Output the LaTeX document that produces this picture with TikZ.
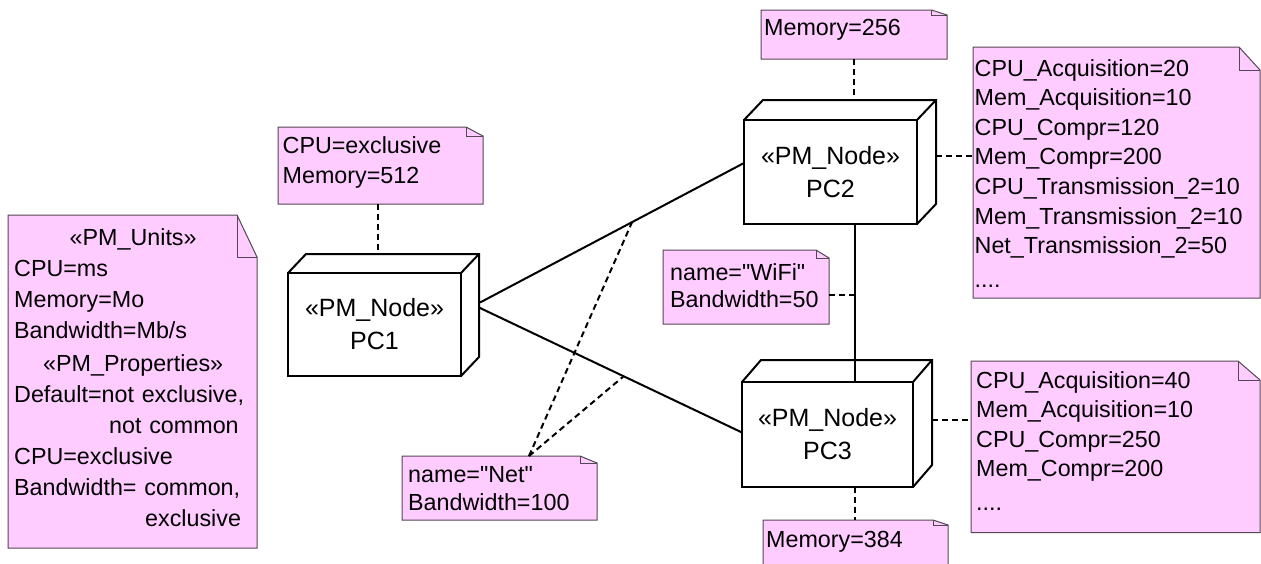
\documentclass[tikz,border=0pt]{standalone}
\usepackage{fontspec}
\setmainfont{Liberation Sans}[Ligatures=TeXOff]
\usetikzlibrary{calc}
\definecolor{notepink}{RGB}{255,204,255}
\definecolor{noteedge}{RGB}{85,70,85}
\tikzset{
  notebox/.style={draw=none, inner sep=0pt, outer sep=0pt, anchor=north west},
  noteshape/.style={fill=notepink, draw=noteedge, line width=1pt, line join=miter},
  notetext/.style={inner sep=0pt, anchor=base west, align=left, text width=#1,
    font=\fontsize{23.3}{29.6}\selectfont},
  pmnode/.style={draw, fill=white, line width=2pt, inner sep=0pt, outer sep=0pt,
    align=center, font=\fontsize{25}{33}\selectfont},
  boxline/.style={line width=2pt, line join=miter},
  conn/.style={line width=2pt},
  dashconn/.style={line width=2pt, dash pattern=on 6pt off 4pt}
}
\newcommand\drawnote[3]{%
  \filldraw[noteshape] (#1.south west) -- (#1.north west) -- ([xshift=-#2]#1.north east)
    -- ([yshift=-#3]#1.north east) -- (#1.south east) -- cycle;
  \draw[noteshape, fill=none] ([xshift=-#2]#1.north east) |- ([yshift=-#3]#1.north east);
}
\newcommand\drawcube[3]{%
  \draw[boxline] (#1.north west) -- ++(#2,-#3) -| ([shift={(#2,-#3)}]#1.south east) -- (#1.south east);
  \draw[boxline] (#1.north east) -- ++(#2,-#3);
}
\begin{document}
\begin{tikzpicture}[x=1pt, y=-1pt]
\clip (0,0) rectangle (1261,563);
\fill[white] (0,0) rectangle (1261,563);

% ---- PM nodes
\node[pmnode, minimum width=173pt, minimum height=103pt] (pc1) at (374.5,324.5) {«PM\_Node»\\PC1};
\drawcube{pc1}{18}{19}
\node[pmnode, minimum width=173pt, minimum height=104pt] (pc2) at (830.5,172) {«PM\_Node»\\PC2};
\drawcube{pc2}{19}{20}
\node[pmnode, minimum width=171pt, minimum height=105pt] (pc3) at (827.5,434.5) {«PM\_Node»\\PC3};
\drawcube{pc3}{19}{22}

% ---- notes (shapes)
\node[notebox, minimum width=249pt, minimum height=333pt] (units) at (8,215) {};
\drawnote{units}{20pt}{42pt}
\node[notebox, minimum width=205pt, minimum height=77pt] (n1) at (278,127) {};
\drawnote{n1}{17pt}{9pt}
\node[notebox, minimum width=186pt, minimum height=49pt] (m256) at (761,10) {};
\drawnote{m256}{15.5pt}{5pt}
\node[notebox, minimum width=287pt, minimum height=251pt] (n2) at (973,47) {};
\drawnote{n2}{21pt}{23pt}
\node[notebox, minimum width=166pt, minimum height=74pt] (wifi) at (663,250) {};
\drawnote{wifi}{13pt}{8pt}
\node[notebox, minimum width=195pt, minimum height=64pt] (net) at (402,456) {};
\drawnote{net}{17pt}{7pt}
\node[notebox, minimum width=289pt, minimum height=171.5pt] (n3) at (971,361) {};
\drawnote{n3}{22pt}{19pt}
\node[notebox, minimum width=185pt, minimum height=60pt] (m384) at (763,520) {};
\drawnote{m384}{15pt}{5pt}

% ---- solid connectors
\draw[conn] ([shift={(19,-22)}]pc1.east) -- ([yshift=9pt]pc2.west) coordinate[pos=0.576] (l1);
\draw[conn] ([shift={(18,-17)}]pc1.east) -- ([yshift=2pt]pc3.west) coordinate[pos=0.55] (l2);
\coordinate (v) at ([xshift=24.5pt]pc2.south);
\draw[conn] (v) -- (v |- pc3.north);

% ---- dashed connectors
\coordinate (pc1top) at ([yshift=19pt]pc1.north);
\coordinate (pc2top) at ([yshift=20pt]pc2.north);
\coordinate (d1) at ([xshift=-2.5pt]n1.south);
\draw[dashconn] (d1) -- (d1 |- pc1top);
\draw[dashconn] (m256.south) -- (m256.south |- pc2top);
\coordinate (d2) at ([shift={(19,-16)}]pc2.east);
\draw[dashconn] (d2) -- (d2 -| n2.west);
\coordinate (d3) at ([shift={(19,-14.5)}]pc3.east);
\draw[dashconn] (d3) -- (d3 -| n3.west);
\coordinate (d4) at ([xshift=27.5pt]pc3.south);
\draw[dashconn] (d4) -- (d4 |- m384.north);
\coordinate (d5) at ([yshift=-8pt]wifi.east);
\draw[dashconn] (d5) -- (d5 -| v);
\coordinate (d6) at ([xshift=29.5pt]net.north);
\draw[dashconn] (d6) -- (l1);
\draw[dashconn] (d6) -- (l2);

% ---- note texts
\node[notetext=245pt, font=\fontsize{23.3}{31}\selectfont] (tunits) at (14,245)
  {\hspace*{55.5pt}«PM\_Units»\\
   CPU=ms\\
   Memory=Mo\\
   Bandwidth=Mb/s\\[2pt]
   \hspace*{29pt}«PM\_Properties»\\
   Default=not exclusive,\\
   \hspace*{95pt}not common\\
   CPU=exclusive\\
   Bandwidth= common,\\
   \hspace*{131pt}exclusive};
\node[notetext=200pt, font=\fontsize{23.3}{30}\selectfont] (t1) at (282.5,153) {CPU=exclusive\\Memory=512};
\node[notetext=180pt] (t256) at (764,35.5) {Memory=256};
\node[notetext=280pt] (t2) at (974.5,76)
  {CPU\_Acquisition=20\\
   Mem\_Acquisition=10\\
   CPU\_Compr=120\\
   Mem\_Compr=200\\
   CPU\_Transmission\_2=10\\
   Mem\_Transmission\_2=10\\
   Net\_Transmission\_2=50\\[4pt]
   ....};
\node[notetext=160pt, font=\fontsize{23.3}{27.5}\selectfont] (tw) at (670,280) {name="WiFi"\\Bandwidth=50};
\node[notetext=190pt, font=\fontsize{23.3}{28}\selectfont] (tn) at (408,482) {name="Net"\\Bandwidth=100};
\node[notetext=280pt] (t3) at (976,388)
  {CPU\_Acquisition=40\\
   Mem\_Acquisition=10\\
   CPU\_Compr=250\\
   Mem\_Compr=200\\[4pt]
   ....};
\node[notetext=180pt] (t384) at (766,547) {Memory=384};
\end{tikzpicture}
\end{document}
